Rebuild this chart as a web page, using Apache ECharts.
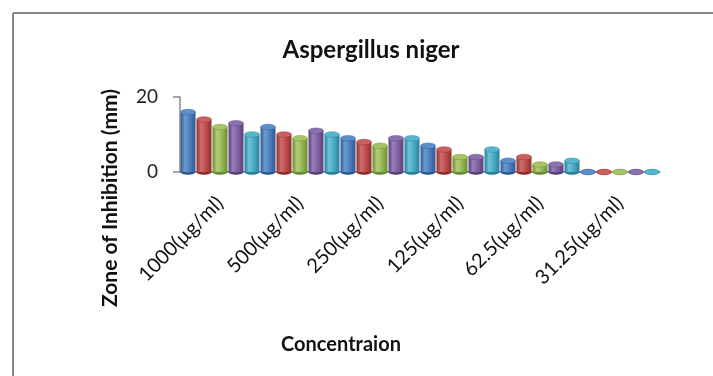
<!DOCTYPE html>
<html>
<head>
<meta charset="utf-8">
<script src="https://cdn.jsdelivr.net/npm/echarts@6/dist/echarts.min.js"></script>
<style>
  html, body { margin: 0; padding: 0; background: #fff; }
  #chart { width: 713px; height: 376px; }
</style>
</head>
<body>
<div id="chart"></div>
<script>
// Zone of inhibition (mm) per concentration, five replicate series
const categories = ['1000(µg/ml)', '500(µg/ml)', '250(µg/ml)', '125(µg/ml)', '62.5(µg/ml)', '31.25(µg/ml)'];
const series1 = [16, 12, 9, 7, 3, 0];
const series2 = [14, 10, 8, 6, 4, 0];
const series3 = [12, 9, 7, 4, 2, 0];
const series4 = [13, 11, 9, 4, 2, 0];
const series5 = [10, 10, 9, 6, 3, 0];
const yTicks = [0, 20];

const seriesList = [series1, series2, series3, series4, series5];
const palette = [
  { base: '#4F81BD', dark: '#2F5A8E', light: '#6E9BD2', cap: '#5C8ECC' },
  { base: '#C0504D', dark: '#8E2F2D', light: '#D26E6B', cap: '#CB5F5C' },
  { base: '#9BBB59', dark: '#6E8A35', light: '#B3CF78', cap: '#A5C466' },
  { base: '#8064A2', dark: '#58417A', light: '#9A80BA', cap: '#8A70AE' },
  { base: '#4BACC6', dark: '#2C7F97', light: '#6FC2D8', cap: '#58B5CE' }
];

const chart = echarts.init(document.getElementById('chart'), null, { renderer: 'canvas' });

// Draws one cylinder: bottom disk, shaded body, top cap
function cylinder(params, api) {
  const si = params.seriesIndex;
  const c = palette[si];
  const ci = api.value(0);
  const v = api.value(1);
  const top = api.coord([ci, v]);
  const base = api.coord([ci, 0]);
  const cw = api.size([1, 0])[0];
  const bw = cw / seriesList.length;
  const x0 = base[0] - cw / 2 + si * bw + 0.5;
  const w = bw - 1;
  const ry = 2.8;
  const grad = new echarts.graphic.LinearGradient(0, 0, 1, 0, [
    { offset: 0, color: c.dark },
    { offset: 0.3, color: c.light },
    { offset: 0.6, color: c.base },
    { offset: 1, color: c.dark }
  ]);
  return {
    type: 'group',
    children: [
      { type: 'ellipse', shape: { cx: x0 + w / 2, cy: base[1], rx: w / 2, ry: ry }, style: { fill: c.dark } },
      { type: 'rect', shape: { x: x0, y: top[1], width: w, height: Math.max(0, base[1] - top[1]) }, style: { fill: grad } },
      { type: 'ellipse', shape: { cx: x0 + w / 2, cy: top[1], rx: w / 2, ry: ry }, style: { fill: c.cap, stroke: c.dark, lineWidth: 0.4 } }
    ]
  };
}

const option = {
  animation: false,
  backgroundColor: '#fff',
  title: {
    text: 'Aspergillus niger',
    left: 366,
    top: 33,
    textAlign: 'center',
    textStyle: { fontFamily: 'Lato', fontSize: 24, fontWeight: 'bold', color: '#111' }
  },
  grid: { left: 180, right: 53, top: 97, bottom: 204 },
  xAxis: {
    type: 'category',
    data: categories,
    axisLine: { show: true, lineStyle: { color: '#8a8a8a', width: 1.5 } },
    axisTick: { show: false },
    axisLabel: {
      rotate: 45,
      interval: 0,
      margin: 28,
      fontFamily: 'Lato',
      fontSize: 20,
      color: '#111'
    }
  },
  yAxis: {
    type: 'value',
    min: yTicks[0],
    max: yTicks[yTicks.length - 1],
    interval: 20,
    axisLine: { show: true, lineStyle: { color: '#8a8a8a', width: 1.5 } },
    axisTick: { show: true, length: 7, lineStyle: { color: '#8a8a8a', width: 1.5 } },
    splitLine: { show: false },
    axisLabel: { margin: 22, fontFamily: 'Lato', fontSize: 19, color: '#222' }
  },
  graphic: [
    { type: 'line', shape: { x1: 13, y1: 13, x2: 713, y2: 13 }, style: { stroke: '#888', lineWidth: 2 } },
    { type: 'line', shape: { x1: 13, y1: 13, x2: 13, y2: 376 }, style: { stroke: '#888', lineWidth: 2 } },
    {
      type: 'text', x: 110, y: 198, rotation: Math.PI / 2,
      style: { text: 'Zone of Inhibition (mm)', fontFamily: 'Lato', fontSize: 21, fontWeight: 'bold', fill: '#111', align: 'center', verticalAlign: 'middle' }
    },
    {
      type: 'text', x: 341, y: 345,
      style: { text: 'Concentraion', fontFamily: 'Lato', fontSize: 20, fontWeight: 'bold', fill: '#111', align: 'center', verticalAlign: 'middle' }
    }
  ],
  series: seriesList.map((arr, i) => ({
    type: 'custom',
    name: 'Series ' + (i + 1),
    renderItem: cylinder,
    encode: { x: 0, y: 1 },
    data: arr.map((v, k) => [k, v])
  }))
};

chart.setOption(option);
</script>
</body>
</html>
